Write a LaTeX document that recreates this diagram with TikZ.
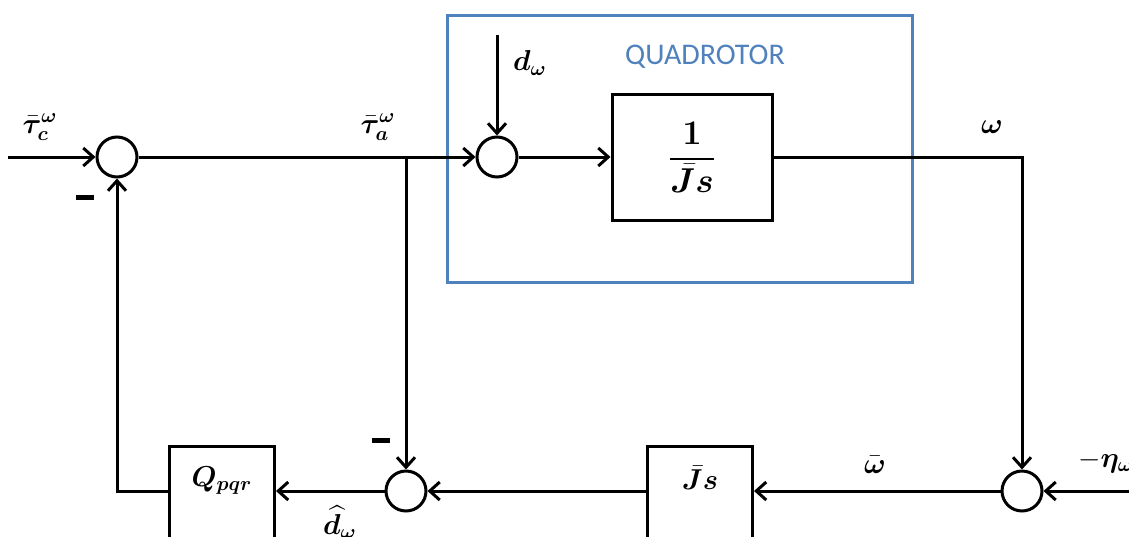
\documentclass[tikz,border=0pt]{standalone}
\usepackage{amsmath, amssymb, bm}
\usepackage{fontspec}
\newfontfamily\carlito{Carlito}
\definecolor{quadblue}{RGB}{79, 129, 189}
\usetikzlibrary{arrows.meta, positioning, calc}

\begin{document}
\begin{tikzpicture}[x=0.5pt, y=-0.5pt, line width=1.5pt,
  sumnode/.style={draw, circle, minimum size=20pt, inner sep=0pt, fill=white},
  blockbox/.style={draw, rectangle, inner sep=0pt, minimum width=52.5pt, anchor=north, font=\Large},
  minus/.style={fill, rectangle, minimum width=9pt, minimum height=2.5pt, inner sep=0pt},
  sig/.style={-{Straight Barb[length=5pt, width=9pt]}},
  lab/.style={font=\Large}]
  \clip (0,0) rectangle (1129,536);

  % Plant frame
  \draw[quadblue] (447,15) rectangle (912,282);
  \node[font=\carlito\fontsize{15}{18}\selectfont, quadblue] (title) at (705,57) {QUADROTOR};

  % Summing junctions
  \node[sumnode] (s1) at (117,157) {};
  \node[sumnode] (s2) at (497,157) {};
  \node[sumnode] (s3) at (406,491) {};
  \node[sumnode] (s4) at (1022,491) {};

  % Blocks
  \node[draw, minimum width=80pt, minimum height=63pt, inner sep=0pt, font=\LARGE] (plant) at (692,157)
    {$\dfrac{\bm{1}}{\bar{\bm{J}}\bm{s}}$};
  \node[blockbox, text height=21.5pt, text depth=36pt] (jsbox) at (700,445) {$\bar{\bm{J}}\bm{s}$};
  \node[blockbox, text height=20pt, text depth=38pt] (qbox) at (222,445) {$\bm{Q_{pqr}}$};

  % Free ends
  \coordinate (in) at (8,157);
  \coordinate (dist) at (497,35);
  \coordinate (noise) at (1129,491);

  % Signals
  \draw[sig] (in) -- (s1);
  \draw[sig] (s1) -- (s2);
  \draw[sig] (dist) -- (s2);
  \draw[sig] (s2) -- (plant);
  \draw[sig] (plant) -| (s4);
  \draw[sig] (noise) -- (s4);
  \draw[sig] (s4) -- (s4 -| jsbox.east);
  \draw[sig] (jsbox.west |- s3) -- (s3);
  \draw[sig] (s3) -- (s3 -| qbox.east);
  \draw[sig] (qbox.west |- s3) -| (s1);
  \draw[sig] (s3 |- s1) -- (s3);

  % Labels
  \node[lab] (tauc) at (40,127) {$\bar{\bm{\tau}}_{\bm{c}}^{\bm{\omega}}$};
  \node[lab] (taua) at (378,127) {$\bar{\bm{\tau}}_{\bm{a}}^{\bm{\omega}}$};
  \node[lab] (dlab) at (530,63) {$\bm{d_\omega}$};
  \node[lab] (wlab) at (992,127) {$\bm{\omega}$};
  \node[lab] (wbar) at (875,465) {$\bar{\bm{\omega}}$};
  \node[lab, anchor=west] (eta) at (1070,462) {$-\bm{\eta_\omega}$};
  \node[lab] (dhat) at (340,522) {$\widehat{\bm{d}}_{\bm{\omega}}$};

  % Signs
  \node[minus] (m1) at (85,197) {};
  \node[minus] (m2) at (381,440) {};
\end{tikzpicture}
\end{document}
